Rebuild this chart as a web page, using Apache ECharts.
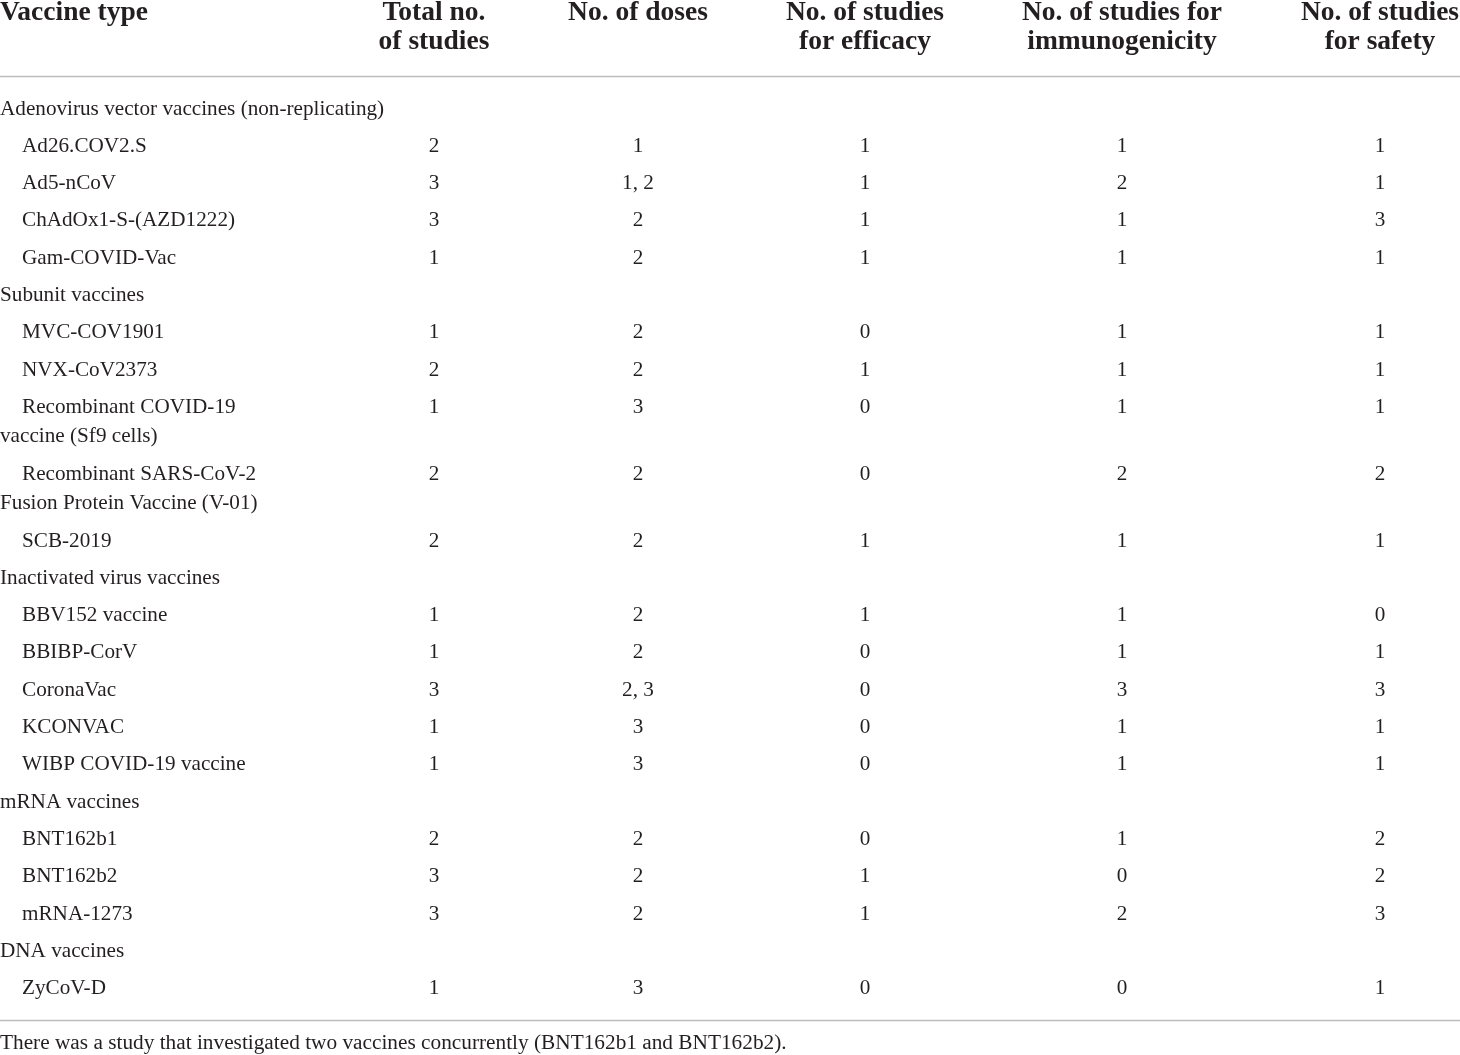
<!DOCTYPE html>
<html>
<head>
<meta charset="utf-8">
<script src="https://cdn.jsdelivr.net/npm/echarts@6/dist/echarts.min.js"></script>
<style>
  html, body { margin: 0; padding: 0; background: #ffffff; }
  #chart { width: 1460px; height: 1055px; }
</style>
</head>
<body>
<div id="chart"></div>
<script>
// ---------- DATA ----------
const headers = [
  'Vaccine type',
  'Total no.\nof studies',
  'No. of doses',
  'No. of studies\nfor efficacy',
  'No. of studies for\nimmunogenicity',
  'No. of studies\nfor safety'
];
const groups = [
  'Adenovirus vector vaccines (non-replicating)',
  'Subunit vaccines',
  'Inactivated virus vaccines',
  'mRNA vaccines',
  'DNA vaccines'
];
const vaccines = [
  'Ad26.COV2.S', 'Ad5-nCoV', 'ChAdOx1-S-(AZD1222)', 'Gam-COVID-Vac',
  'MVC-COV1901', 'NVX-CoV2373', 'Recombinant COVID-19\nvaccine (Sf9 cells)',
  'Recombinant SARS-CoV-2\nFusion Protein Vaccine (V-01)', 'SCB-2019',
  'BBV152 vaccine', 'BBIBP-CorV', 'CoronaVac', 'KCONVAC', 'WIBP COVID-19 vaccine',
  'BNT162b1', 'BNT162b2', 'mRNA-1273',
  'ZyCoV-D'
];
const vaccineGroup = [0,0,0,0, 1,1,1,1,1, 2,2,2,2,2, 3,3,3, 4];
const totalStudies = [2,3,3,1, 1,2,1,2,2, 1,1,3,1,1, 2,3,3, 1];
const doses        = ['1','1, 2','2','2', '2','2','3','2','2', '2','2','2, 3','3','3', '2','2','2', '3'];
const efficacy     = [1,1,1,1, 0,1,0,0,1, 1,0,0,0,0, 0,1,1, 0];
const immunogenicity = [1,2,1,1, 1,1,1,2,1, 1,1,3,1,1, 1,0,2, 0];
const safety       = [1,1,3,1, 1,1,1,2,1, 0,1,3,1,1, 2,2,3, 1];
const footnote = 'There was a study that investigated two vaccines concurrently (BNT162b1 and BNT162b2).';

// ---------- LAYOUT (not data) ----------
const L = {
  width: 1460, height: 1055,
  rowStep: 37.3,        // px per row unit
  firstRowPx: 109,      // centre of first body row
  extraLine: 0.79,      // row units per extra wrapped line
  colX: [0, 434, 638, 865, 1122, 1380],
  indent: 22,
  header1Px: 12.5, headerGapPx: 29,
  ruleTopPx: 76.5, ruleBottomPx: 1020.5, footPx: 1043.5,
  bodySize: 21.2, headSize: 27.5, footSize: 21.3
};
const toUnit = px => (px - L.firstRowPx) / L.rowStep;
const FONT = '"Liberation Serif", "Times New Roman", serif';
const TEXT_COLOR = '#231f20';

// ---------- build table rows ----------
const rows = [];
let yCur = 0;
let lastGroup = -1;
function pushRow(r) {
  r.y = yCur;
  rows.push(r);
  const nLines = r.label.split('\n').length;
  yCur += 1 + L.extraLine * (nLines - 1);
}
vaccines.forEach((name, i) => {
  if (vaccineGroup[i] !== lastGroup) {
    lastGroup = vaccineGroup[i];
    pushRow({ kind: 'group', label: groups[lastGroup] });
  }
  pushRow({
    kind: 'item', label: name,
    cells: [totalStudies[i], doses[i], efficacy[i], immunogenicity[i], safety[i]]
  });
});

function txt(s, p, align, size, weight) {
  return {
    type: 'text', x: p[0], y: p[1],
    style: {
      text: s, fill: TEXT_COLOR, align: align, verticalAlign: 'middle',
      fontFamily: FONT, fontSize: size, fontWeight: weight || 'normal'
    }
  };
}

function renderBody(params, api) {
  const r = rows[params.dataIndex];
  const y = api.value(1);
  const children = [];
  r.label.split('\n').forEach((ln, i) => {
    const x = (r.kind === 'item' && i === 0) ? L.indent : 0;
    children.push(txt(ln, api.coord([x, y + i * L.extraLine]), 'left', L.bodySize));
  });
  if (r.cells) {
    r.cells.forEach((c, j) => {
      children.push(txt(String(c), api.coord([L.colX[j + 1], y]), 'center', L.bodySize));
    });
  }
  return { type: 'group', children };
}

function renderHeader(params, api) {
  const i = params.dataIndex;
  const y0 = api.value(1);
  const children = headers[i].split('\n').map((ln, k) =>
    txt(ln, api.coord([L.colX[i], y0 + k * L.headerGapPx / L.rowStep]), i === 0 ? 'left' : 'center', L.headSize, 'bold'));
  return { type: 'group', children };
}

function renderRule(params, api) {
  const a = api.coord([0, api.value(1)]);
  const b = api.coord([L.width, api.value(1)]);
  return {
    type: 'line',
    shape: { x1: a[0], y1: a[1], x2: b[0], y2: b[1] },
    style: { stroke: '#bdbdbd', lineWidth: 1.5 }
  };
}

function renderFoot(params, api) {
  return txt(footnote, api.coord([0, api.value(1)]), 'left', L.footSize);
}

const chart = echarts.init(document.getElementById('chart'), null, { renderer: 'canvas' });
chart.setOption({
  backgroundColor: '#ffffff',
  animation: false,
  grid: { left: 0, right: 0, top: 0, bottom: 0 },
  xAxis: { type: 'value', min: 0, max: L.width, show: false },
  yAxis: {
    type: 'value', inverse: true, show: false,
    min: toUnit(0), max: toUnit(L.height)
  },
  series: [
    {
      type: 'custom', name: 'header', clip: false,
      renderItem: renderHeader,
      data: headers.map((h, i) => [L.colX[i], toUnit(L.header1Px)])
    },
    {
      type: 'custom', name: 'rules', clip: false,
      renderItem: renderRule,
      data: [[0, toUnit(L.ruleTopPx)], [0, toUnit(L.ruleBottomPx)]]
    },
    {
      type: 'custom', name: 'body', clip: false,
      renderItem: renderBody,
      data: rows.map(r => [0, r.y])
    },
    {
      type: 'custom', name: 'footnote', clip: false,
      renderItem: renderFoot,
      data: [[0, toUnit(L.footPx)]]
    }
  ]
});
</script>
</body>
</html>
